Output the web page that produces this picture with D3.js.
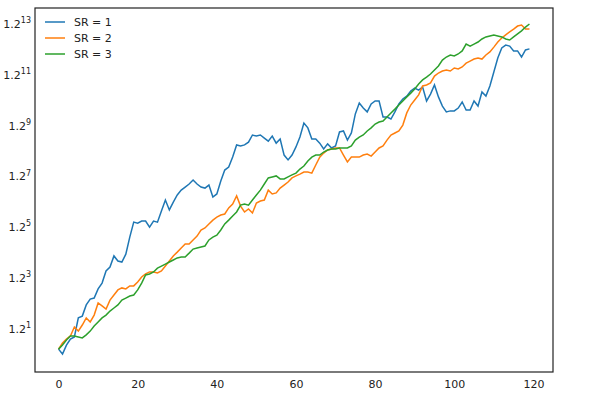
<!DOCTYPE html>
<html><head><meta charset="utf-8">
<script src="https://cdn.jsdelivr.net/npm/d3@7"></script>
<style>body{margin:0;background:#fff}text{font-family:"DejaVu Sans",sans-serif}</style>
</head><body><svg id="c" width="600" height="400"></svg>
<script>
// values are stored as log base 1.2 (exponents), y axis is log1.2-scaled
const seriesNames = ["SR = 1", "SR = 2", "SR = 3"];
const colors = ["#1f77b4", "#ff7f0e", "#2ca02c"];
const sr1 = [0.20,0.01,0.36,0.60,0.68,1.43,1.50,1.94,2.17,2.21,2.57,2.80,3.28,3.43,3.87,3.67,3.63,3.94,4.61,5.20,5.16,5.24,5.24,5.00,5.24,5.20,5.64,6.07,5.68,5.99,6.27,6.46,6.58,6.70,6.86,6.70,6.58,6.54,6.66,6.19,6.31,6.82,7.25,7.37,7.76,8.24,8.20,8.24,8.35,8.63,8.59,8.63,8.51,8.39,8.59,8.31,8.47,7.84,7.65,7.84,8.16,8.55,9.10,8.91,8.47,8.47,8.31,8.08,8.28,8.12,8.20,8.75,8.79,8.43,8.71,9.46,9.89,9.69,9.54,9.85,9.97,9.97,9.34,9.34,9.26,9.54,9.85,10.05,10.16,10.36,10.48,10.40,10.52,9.97,10.24,10.60,10.13,9.77,9.54,9.58,9.58,9.69,9.93,9.61,9.61,9.97,9.77,10.32,10.16,10.56,11.11,11.66,12.06,12.17,12.13,11.94,11.94,11.70,11.98,12.02];
const sr2 = [0.20,0.44,0.60,0.72,1.07,0.91,1.15,1.43,1.27,1.54,2.02,1.90,1.78,2.13,2.33,2.53,2.61,2.57,2.69,2.69,2.84,3.04,3.16,3.24,3.24,3.20,3.28,3.47,3.67,3.87,4.02,4.18,4.34,4.34,4.50,4.65,4.89,4.97,5.13,5.28,5.40,5.48,5.52,5.76,5.91,6.23,5.83,5.60,5.72,5.56,5.95,6.03,6.07,6.46,6.31,6.35,6.54,6.66,6.78,6.94,7.02,7.09,7.17,7.17,7.13,7.45,7.76,7.92,8.04,8.08,8.12,8.12,7.84,7.57,7.76,7.76,7.76,7.84,7.88,7.80,7.96,8.12,8.20,8.43,8.63,8.71,8.79,9.02,9.50,9.81,10.01,10.21,10.56,10.60,10.68,10.95,11.07,11.15,11.19,11.15,11.27,11.23,11.31,11.46,11.54,11.62,11.66,11.62,11.78,11.90,12.09,12.29,12.45,12.57,12.69,12.80,12.92,12.96,12.80,12.80];
const sr3 = [0.20,0.36,0.56,0.72,0.72,0.68,0.64,0.76,0.91,1.11,1.27,1.43,1.54,1.70,1.82,1.94,2.13,2.21,2.29,2.33,2.53,2.80,3.12,3.16,3.24,3.39,3.47,3.55,3.63,3.71,3.79,3.83,3.83,3.98,4.14,4.18,4.22,4.26,4.50,4.61,4.69,4.89,5.13,5.28,5.44,5.60,5.87,5.91,5.87,6.07,6.27,6.46,6.70,6.94,6.98,7.02,6.90,6.90,6.98,7.06,7.13,7.29,7.41,7.61,7.76,7.84,7.84,7.96,8.04,8.08,8.08,8.12,8.12,8.12,8.20,8.43,8.55,8.63,8.79,8.91,9.06,9.14,9.18,9.34,9.50,9.65,9.81,9.97,10.13,10.28,10.44,10.64,10.80,10.91,11.03,11.19,11.35,11.58,11.70,11.78,11.74,11.82,11.94,12.21,12.13,12.21,12.29,12.41,12.49,12.53,12.57,12.53,12.49,12.41,12.37,12.49,12.61,12.73,12.88,13.00];
const xTicks = [0,20,40,60,80,100,120];
const yTicks = [1,3,5,7,9,11,13];
const series = [sr1, sr2, sr3];

const L=35,R=553,T=8,B=372;
const svg=d3.select("#c");
const x=d3.scaleLinear().domain([-5.95,124.95]).range([L,R]);
const y=d3.scaleLinear().domain([-0.70,13.63]).range([B,T]);

const xa=svg.append("g").attr("transform",`translate(0,${B})`).call(d3.axisBottom(x).tickValues(xTicks).tickSize(0).tickPadding(8));
xa.select(".domain").remove();
xa.selectAll("text").attr("font-size",11).attr("fill","#222");
const ya=svg.append("g").attr("transform",`translate(${L},0)`).call(d3.axisLeft(y).tickValues(yTicks).tickSize(0).tickPadding(4).tickFormat(""));
ya.select(".domain").remove();
ya.selectAll(".tick").append("text").attr("x",-4).attr("dy","0.32em").attr("text-anchor","end")
  .attr("fill","#222").attr("font-size",11)
  .each(function(d){const t=d3.select(this);t.append("tspan").text("1.2");t.append("tspan").attr("font-size",8).attr("dy","-0.6em").text(d);});

const line=d3.line().x((d,i)=>x(i)).y(d=>y(d));
series.forEach((s,k)=>svg.append("path").datum(s).attr("d",line).attr("fill","none").attr("stroke",colors[k]).attr("stroke-width",1.5));

svg.append("rect").attr("x",L).attr("y",T).attr("width",R-L).attr("height",B-T).attr("fill","none").attr("stroke","#222").attr("stroke-width",1.2);

const lg=svg.append("g").attr("transform",`translate(${L+10},${T+14})`);
seriesNames.forEach((n,k)=>{
  const g=lg.append("g").attr("transform",`translate(0,${k*16})`);
  g.append("line").attr("x1",0).attr("x2",20).attr("stroke",colors[k]).attr("stroke-width",1.5);
  g.append("text").attr("x",29).attr("dy","0.35em").attr("font-size",11).attr("fill","#222").text(n);
});
</script></body></html>
